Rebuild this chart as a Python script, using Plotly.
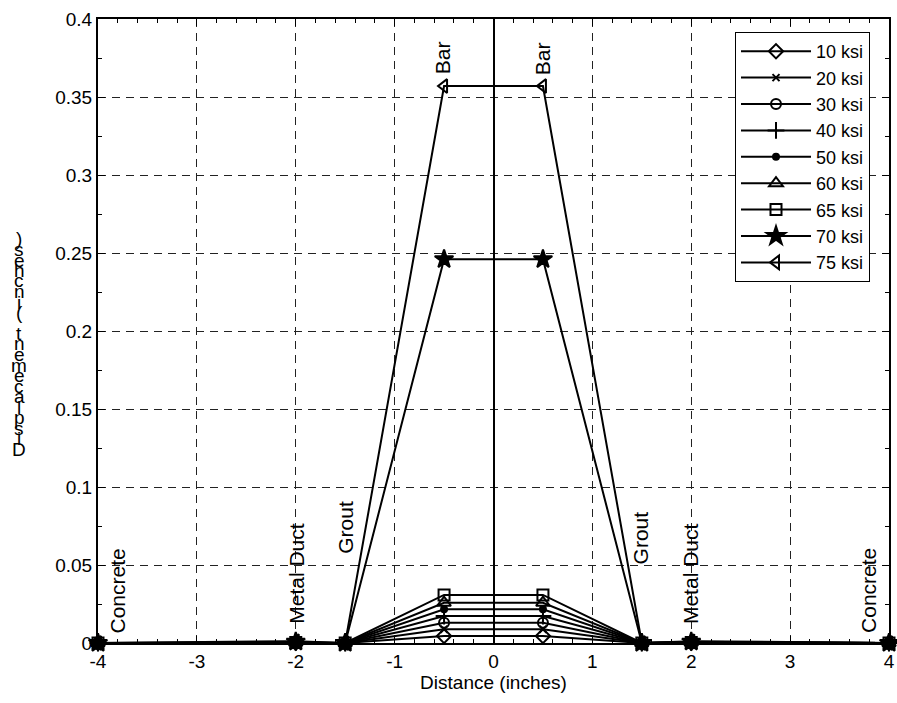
import plotly.graph_objects as go

# ---------------- data ----------------
distance = [-4, -2, -1.5, -0.5, 0.5, 1.5, 2, 4]
series_names = ["10 ksi", "20 ksi", "30 ksi", "40 ksi", "50 ksi", "60 ksi", "65 ksi", "70 ksi", "75 ksi"]
disp_10 = [0, 0.0002, 0, 0.0045, 0.0045, 0, 0.0002, 0]
disp_20 = [0, 0.0002, 0, 0.0088, 0.0088, 0, 0.0002, 0]
disp_30 = [0, 0.0002, 0, 0.0130, 0.0130, 0, 0.0002, 0]
disp_40 = [0, 0.0002, 0, 0.0173, 0.0173, 0, 0.0002, 0]
disp_50 = [0, 0.0002, 0, 0.0216, 0.0216, 0, 0.0002, 0]
disp_60 = [0, 0.0003, 0, 0.0258, 0.0258, 0, 0.0003, 0]
disp_65 = [0, 0.0003, 0, 0.0308, 0.0308, 0, 0.0003, 0]
disp_70 = [0, 0.0008, 0, 0.2460, 0.2460, 0, 0.0008, 0]
disp_75 = [0, 0.0012, 0, 0.3570, 0.3570, 0, 0.0012, 0]
all_series = [disp_10, disp_20, disp_30, disp_40, disp_50, disp_60, disp_65, disp_70, disp_75]

x_tickvals = [-4, -3, -2, -1, 0, 1, 2, 3, 4]
x_ticktext = ["-4", "-3", "-2", "-1", "0", "1", "2", "3", "4"]
y_tickvals = [0, 0.05, 0.1, 0.15, 0.2, 0.25, 0.3, 0.35, 0.4]
y_ticktext = ["0", "0.05", "0.1", "0.15", "0.2", "0.25", "0.3", "0.35", "0.4"]

region_labels = ["Concrete", "Metal Duct", "Grout", "Bar", "Bar", "Grout", "Metal Duct", "Concrete"]
region_x = [-3.8, -2.0, -1.5, -0.52, 0.49, 1.49, 2.0, 3.79]
region_y = [0.005, 0.0112, 0.0557, 0.363, 0.363, 0.0493, 0.0107, 0.005]

x_title = "Distance (inches)"
y_title = "Displacement (inches)"

# ---------------- styles ----------------
FONT = "Arial, 'Liberation Sans', sans-serif"
symbols = ["diamond-open", "x-thin-open", "circle-open", "cross-thin-open", "circle",
           "triangle-up-open", "square-open", "star", "triangle-left-open"]
sizes = [11, 7, 10, 12, 6, 12, 11, 14, 12]

fig = go.Figure()
for name, ys, sym, sz in zip(series_names, all_series, symbols, sizes):
    fig.add_trace(go.Scatter(
        x=distance, y=ys, name=name, mode="lines+markers",
        line=dict(color="black", width=2),
        marker=dict(symbol=sym, size=sz, color="black",
                    line=dict(color="black", width=2)),
        cliponaxis=False,
    ))

W, H = 897, 703
L, R, T, B = 98, 8, 19, 60
pw, ph = W - L - R, H - T - B


def px_to_paper_x(px):
    return (px - L) / pw


def px_to_paper_y(py):
    return (H - B - py) / ph


annotations = []
for txt, xv, yv in zip(region_labels, region_x, region_y):
    annotations.append(dict(x=xv, y=yv, xref="x", yref="y", text=txt, showarrow=False,
                            textangle=-90, xanchor="center", yanchor="bottom",
                            font=dict(family=FONT, size=21, color="black")))

# stacked y-axis title characters (as drawn in the reference)
for i, ch in enumerate(y_title):
    if ch == " ":
        continue
    ypx = 449 - i * 10.5
    annotations.append(dict(x=px_to_paper_x(19), y=px_to_paper_y(ypx), xref="paper", yref="paper",
                            text=ch, showarrow=False, xanchor="center", yanchor="middle",
                            font=dict(family=FONT, size=19, color="black")))

axis_common = dict(
    showline=True, linecolor="black", linewidth=2, mirror="ticks",
    ticks="inside", ticklen=7, tickwidth=1, tickcolor="black",
    showgrid=True, gridcolor="#222222", gridwidth=1, griddash="8px,6px",
    tickfont=dict(family=FONT, size=19, color="black"),
    automargin=False,
)

fig.update_layout(
    width=W, height=H,
    margin=dict(l=L, r=R, t=T, b=B, autoexpand=False),
    paper_bgcolor="white", plot_bgcolor="white",
    font=dict(family=FONT, size=19, color="black"),
    xaxis=dict(range=[-4, 4], tickvals=x_tickvals, ticktext=x_ticktext,
               zeroline=True, zerolinecolor="black", zerolinewidth=2,
               minor=dict(dtick=0.2, ticks="inside", ticklen=4, tickcolor="black", showgrid=False),
               title=dict(text=x_title, font=dict(family=FONT, size=19), standoff=4),
               **axis_common),
    yaxis=dict(range=[0, 0.4], tickvals=y_tickvals, ticktext=y_ticktext, zeroline=False,
               minor=dict(dtick=0.025, ticks="inside", ticklen=4, tickcolor="black", showgrid=False),
               **axis_common),
    legend=dict(x=px_to_paper_x(870), y=px_to_paper_y(32), xanchor="right", yanchor="top",
                bgcolor="white", bordercolor="black", borderwidth=1,
                font=dict(family=FONT, size=18, color="black"), itemwidth=70),
    annotations=annotations,
    showlegend=True,
)

# remove the default page margin so the figure sits at the window's top-left corner
fig.write_html("out.html",
               config={"displayModeBar": False},
               post_script="document.body.style.margin='0';document.body.style.overflow='hidden';")
